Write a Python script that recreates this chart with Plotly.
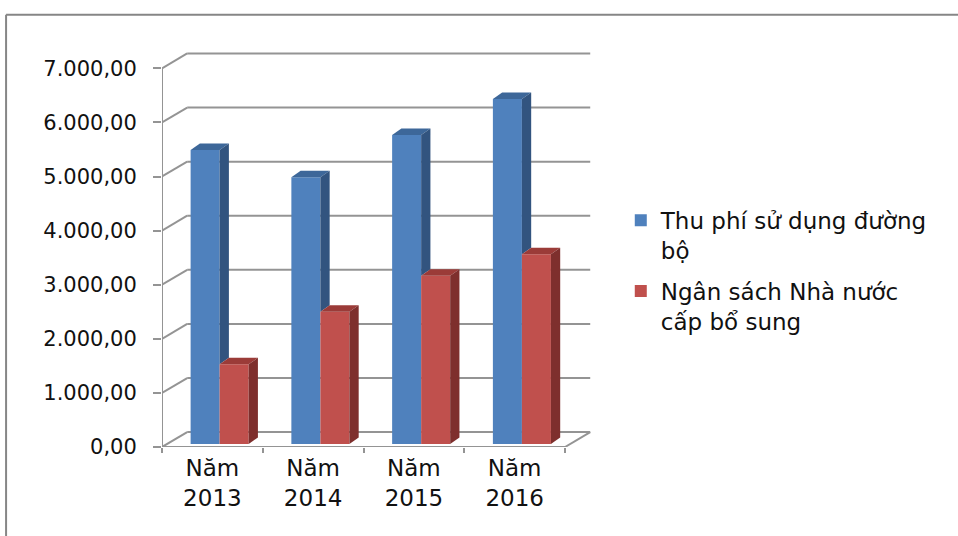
import plotly.graph_objects as go

# --- data -------------------------------------------------------------
years = ["Năm<br>2013", "Năm<br>2014", "Năm<br>2015", "Năm<br>2016"]
series_names = ["Thu phí sử dụng đường<br>bộ", "Ngân sách Nhà nước<br>cấp bổ sung"]
thu_phi = [5434, 4930, 5712, 6377]
ngan_sach = [1473, 2445, 3111, 3506]
y_ticks = [0, 1000, 2000, 3000, 4000, 5000, 6000, 7000]
y_tick_text = ["0,00", "1.000,00", "2.000,00", "3.000,00",
               "4.000,00", "5.000,00", "6.000,00", "7.000,00"]

# --- pseudo-3D geometry (data units) ----------------------------------
WALL_DX, WALL_DY = 0.25, 275      # offset from front plane to back wall
BAR_W = 0.288                     # width of one bar face
BAR_OX, BAR_BASE = 0.072, 55      # position of bar front plane in the box
BAR_DX, BAR_DY = 0.092, 120       # visible depth of each bar
X_LEFT, X_RIGHT = -0.5, 3.5
GRID = "#949494"

FRONT = ["#4F81BD", "#C0504D"]
TOP = ["#3D6799", "#9B3B38"]
SIDE = ["#32547F", "#7E2F2D"]

cats = list(range(len(years)))
fig = go.Figure()


def poly(xs, ys, color):
    fig.add_trace(go.Scatter(
        x=xs + [xs[0]], y=ys + [ys[0]], fill="toself", fillcolor=color,
        mode="lines", line=dict(width=0, color=color),
        hoverinfo="skip", showlegend=False))


# front faces
for k, vals in enumerate([thu_phi, ngan_sach]):
    fig.add_trace(go.Bar(
        x=cats, y=vals, base=BAR_BASE, width=BAR_W,
        offset=BAR_OX - BAR_W + k * BAR_W,
        marker=dict(color=FRONT[k], line=dict(width=0)),
        name=series_names[k], legendgroup=str(k)))

# top and side faces
for c, vb, vr in zip(cats, thu_phi, ngan_sach):
    x0 = c + BAR_OX
    tb, tr = BAR_BASE + vb, BAR_BASE + vr
    # blue top
    poly([x0 - BAR_W, x0, x0 + BAR_DX, x0 - BAR_W + BAR_DX],
         [tb, tb, tb + BAR_DY, tb + BAR_DY], TOP[0])
    # blue side, only the part standing above the red bar
    if tb > tr:
        poly([x0, x0, x0 + BAR_DX, x0 + BAR_DX],
             [tr, tb, tb + BAR_DY, tr + BAR_DY], SIDE[0])
    # red top
    x1 = x0 + BAR_W
    poly([x0, x1, x1 + BAR_DX, x0 + BAR_DX],
         [tr, tr, tr + BAR_DY, tr + BAR_DY], TOP[1])
    # red side
    poly([x1, x1, x1 + BAR_DX, x1 + BAR_DX],
         [BAR_BASE, tr, tr + BAR_DY, BAR_BASE + BAR_DY], SIDE[1])

# walls, floor and gridlines
shapes = []
line = dict(color=GRID, width=2)
for v in y_ticks:
    shapes.append(dict(type="line", xref="x", yref="y", layer="below",
                       x0=X_LEFT, y0=v, x1=X_LEFT + WALL_DX, y1=v + WALL_DY, line=line))
    shapes.append(dict(type="line", xref="x", yref="y", layer="below",
                       x0=X_LEFT + WALL_DX, y0=v + WALL_DY,
                       x1=X_RIGHT + WALL_DX, y1=v + WALL_DY, line=line))
shapes.append(dict(type="line", xref="x", yref="y", layer="below",
                   x0=X_LEFT, y0=0, x1=X_LEFT, y1=y_ticks[-1], line=line))
shapes.append(dict(type="line", xref="x", yref="y", layer="below",
                   x0=X_LEFT, y0=0, x1=X_RIGHT, y1=0, line=line))
shapes.append(dict(type="line", xref="x", yref="y", layer="below",
                   x0=X_RIGHT, y0=0, x1=X_RIGHT + WALL_DX, y1=WALL_DY, line=line))

# chart-area frame (top and left edges)
frame = dict(color="#868686", width=2)
shapes.append(dict(type="line", xref="paper", yref="paper",
                   x0=-0.356, y0=1.075, x1=2.0, y1=1.075, line=frame))
shapes.append(dict(type="line", xref="paper", yref="paper",
                   x0=-0.356, y0=1.075, x1=-0.356, y1=-1.0, line=frame))

fig.update_layout(
    width=958, height=536,
    margin=dict(l=162, r=358, t=45, b=89),
    paper_bgcolor="white", plot_bgcolor="white",
    barmode="overlay", showlegend=True,
    shapes=shapes,
    font=dict(family="DejaVu Sans", color="#111111"),
    xaxis=dict(range=[-0.5, 3.847], showgrid=False, zeroline=False, showline=False,
               tickmode="array", tickvals=cats, ticktext=years, ticks="",
               tickfont=dict(size=23), ticklabelstandoff=5,
               minor=dict(tickmode="array", tickvals=[-0.5, 0.5, 1.5, 2.5, 3.5],
                          ticks="outside", ticklen=5, tickwidth=2, tickcolor=GRID)),
    yaxis=dict(range=[0, 7431], showgrid=False, zeroline=False, showline=False,
               tickmode="array", tickvals=y_ticks, ticktext=y_tick_text,
               ticks="outside", ticklen=8, tickwidth=2, tickcolor=GRID,
               tickfont=dict(size=21), ticklabelstandoff=12),
    legend=dict(xref="container", yref="container", x=0.648, y=0.629,
                xanchor="left", yanchor="top", valign="top",
                font=dict(size=23, color="#111111"), tracegroupgap=8,
                bgcolor="rgba(0,0,0,0)"),
)

fig.write_html("out.html")
